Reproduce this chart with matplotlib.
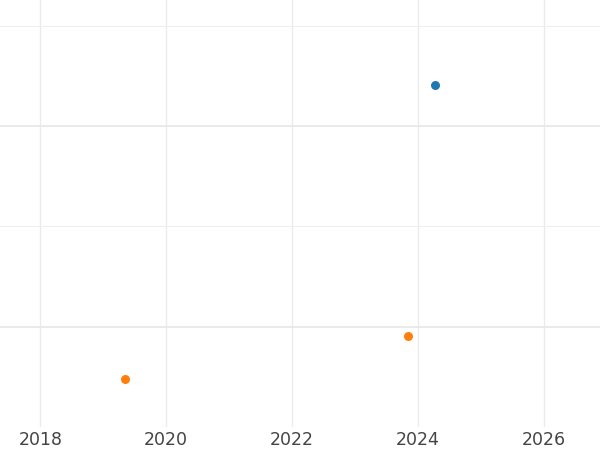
import datetime as dt
import matplotlib
matplotlib.use("Agg")
import matplotlib.pyplot as plt
import matplotlib.dates as mdates
from matplotlib.ticker import MultipleLocator

# blue series
blue_dates = [dt.date(2024, 4, 13)]
blue_vals = [44.1]

# orange series
orange_dates = [dt.date(2019, 5, 8), dt.date(2023, 11, 6)]
orange_vals = [14.8, 19.1]

fig = plt.figure(figsize=(6, 4.5), dpi=100)
ax = fig.add_axes([0, 0.051, 1, 0.949])

ax.scatter(blue_dates, blue_vals, s=42, color="#1f77b4", linewidths=0, zorder=3)
ax.scatter(orange_dates, orange_vals, s=42, color="#ff7f0e", linewidths=0, zorder=3)

ax.set_xlim(dt.date(2017, 5, 12), dt.date(2026, 11, 25))
ax.set_ylim(10, 52.56)

ax.xaxis.set_major_locator(mdates.YearLocator(2))
ax.xaxis.set_major_formatter(mdates.DateFormatter("%Y"))
ax.yaxis.set_major_locator(MultipleLocator(20))
ax.yaxis.set_minor_locator(MultipleLocator(10))

ax.grid(True, which="major", axis="x", color="#ebebeb", linewidth=1.0)
ax.grid(True, which="major", axis="y", color="#e8e8e8", linewidth=1.3)
ax.grid(True, which="minor", axis="y", color="#efefef", linewidth=0.8)
ax.set_axisbelow(True)

for s in ax.spines.values():
    s.set_visible(False)
ax.tick_params(axis="both", which="both", length=0)
ax.tick_params(axis="x", labelsize=12.5, labelcolor="#444444", pad=2.5)
ax.set_yticklabels([])

fig.savefig("out.png", dpi=100)
